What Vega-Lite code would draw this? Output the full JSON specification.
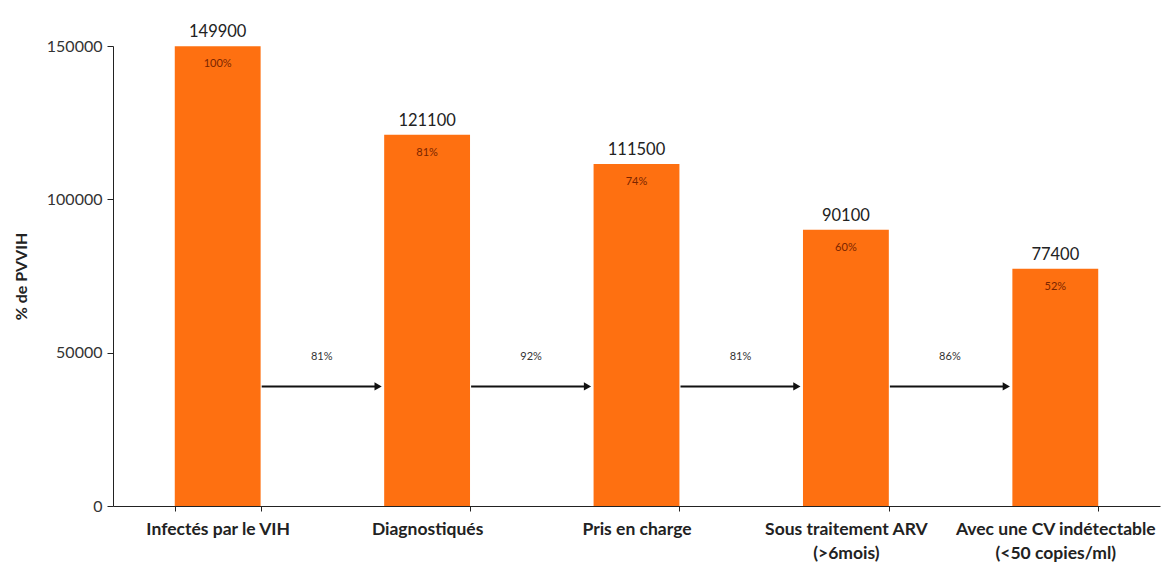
{
  "$schema": "https://vega.github.io/schema/vega-lite/v6.json",
  "autosize": {"type": "none"},
  "width": 1047,
  "height": 460,
  "padding": {"left": 113, "top": 46, "right": 5, "bottom": 61},
  "background": "white",
  "config": {"view": {"stroke": null}, "font": "Lato"},
  "datasets": {
    "bars": [
      {"cat": "Infectés par le VIH", "value": 149900, "pct": "100%"},
      {"cat": "Diagnostiqués", "value": 121100, "pct": "81%"},
      {"cat": "Pris en charge", "value": 111500, "pct": "74%"},
      {"cat": "Sous traitement ARV (>6mois)", "value": 90100, "pct": "60%"},
      {"cat": "Avec une CV indétectable (<50 copies/ml)", "value": 77400, "pct": "52%"}
    ],
    "arrows": [
      {"from": "Infectés par le VIH", "to": "Diagnostiqués", "rate": "81%"},
      {"from": "Diagnostiqués", "to": "Pris en charge", "rate": "92%"},
      {"from": "Pris en charge", "to": "Sous traitement ARV (>6mois)", "rate": "81%"},
      {"from": "Sous traitement ARV (>6mois)", "to": "Avec une CV indétectable (<50 copies/ml)", "rate": "86%"}
    ]
  },
  "layer": [
    {
      "data": {"name": "bars"},
      "mark": {"type": "bar", "color": "#FE7011"},
      "encoding": {
        "x": {
          "field": "cat", "type": "nominal", "sort": null,
          "scale": {"paddingInner": 0.59, "paddingOuter": 0.295},
          "axis": {
            "title": null, "labelAngle": 0, "tickBand": "extent", "labelLimit": 400,
            "labelFont": "Lato", "labelFontSize": 17.5, "labelFontWeight": "bold", "labelColor": "#222",
            "domainColor": "#222", "tickColor": "#222", "tickSize": 5, "labelPadding": 9, "labelLineHeight": 24,
            "labelExpr": "indexof(datum.label, ' (') > 0 ? [slice(datum.label, 0, indexof(datum.label, ' (')), slice(datum.label, indexof(datum.label, ' (') + 1)] : datum.label"
          }
        },
        "y": {
          "field": "value", "type": "quantitative",
          "scale": {"domain": [0, 150000], "nice": false},
          "axis": {
            "title": "% de PVVIH", "titleFontSize": 16, "titleFontWeight": "bold", "titleColor": "#222",
            "titlePadding": 17,
            "values": [0, 50000, 100000, 150000], "format": "d", "grid": false,
            "labelFontSize": 16, "labelColor": "#333", "domainColor": "#222", "tickColor": "#222", "tickSize": 6, "labelPadding": 5
          }
        }
      }
    },
    {
      "data": {"name": "bars"},
      "mark": {"type": "text", "dy": -6, "fontSize": 16.5, "color": "#222", "baseline": "bottom"},
      "encoding": {
        "x": {"field": "cat", "type": "nominal", "sort": null},
        "y": {"field": "value", "type": "quantitative"},
        "text": {"field": "value", "type": "quantitative", "format": "d"}
      }
    },
    {
      "data": {"name": "bars"},
      "mark": {"type": "text", "dy": 18, "fontSize": 11, "color": "#7a2500", "baseline": "middle"},
      "encoding": {
        "x": {"field": "cat", "type": "nominal", "sort": null},
        "y": {"field": "value", "type": "quantitative"},
        "text": {"field": "pct"}
      }
    },
    {
      "data": {"name": "arrows"},
      "mark": {"type": "rule", "color": "#111", "strokeWidth": 2, "xOffset": 44, "x2Offset": -50},
      "encoding": {
        "x": {"field": "from", "type": "nominal", "sort": null},
        "x2": {"field": "to"},
        "y": {"datum": 39000}
      }
    },
    {
      "data": {"name": "arrows"},
      "mark": {"type": "point", "shape": "triangle-right", "filled": true, "color": "#111", "size": 70, "xOffset": -49, "opacity": 1},
      "encoding": {
        "x": {"field": "to", "type": "nominal", "sort": null},
        "y": {"datum": 39000}
      }
    },
    {
      "data": {"name": "arrows"},
      "mark": {"type": "text", "fontSize": 11, "color": "#333", "xOffset": 104, "baseline": "middle"},
      "encoding": {
        "x": {"field": "from", "type": "nominal", "sort": null},
        "y": {"datum": 48500},
        "text": {"field": "rate"}
      }
    }
  ]
}
